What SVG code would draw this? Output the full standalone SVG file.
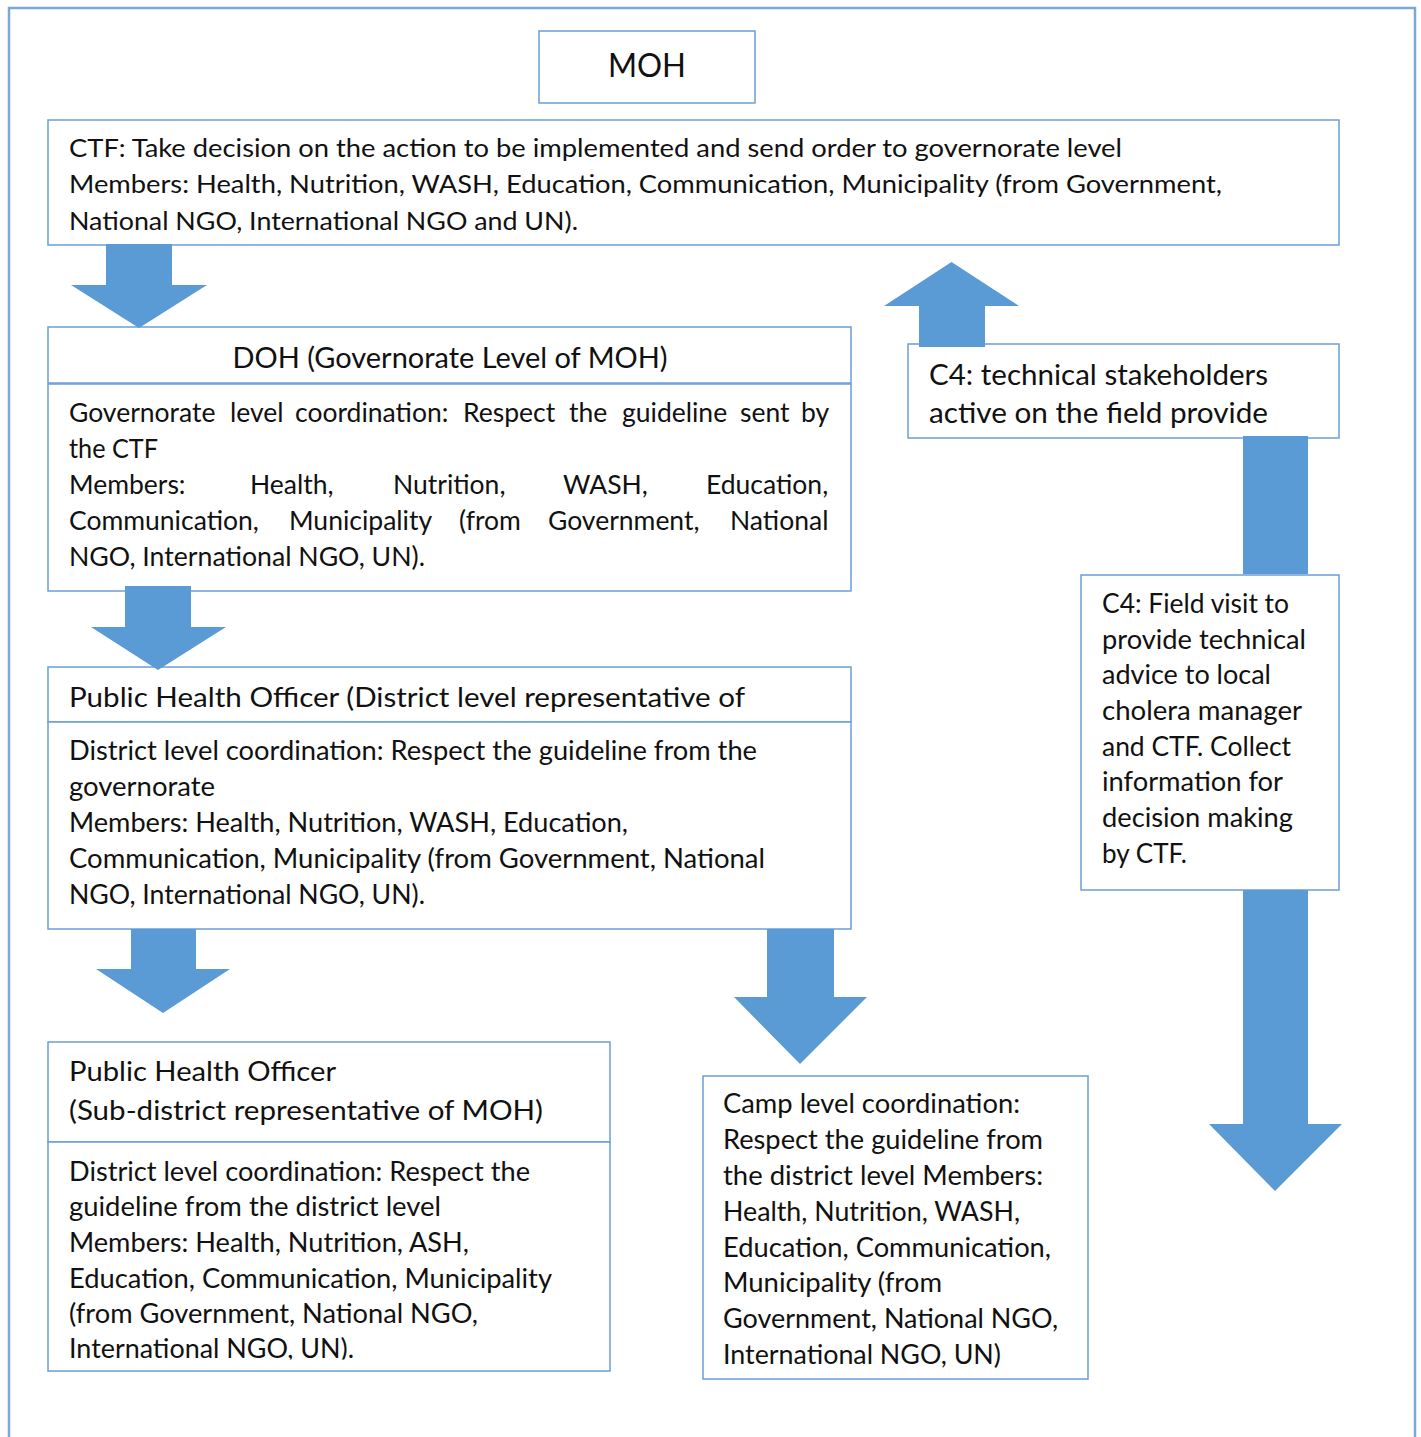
<svg xmlns="http://www.w3.org/2000/svg" width="1421" height="1437" viewBox="0 0 1421 1437">
<style>
.frame{fill:#fff;stroke:#7DA7D9;stroke-width:2.5}
.box{fill:#fff;stroke:#6A9FD8;stroke-width:1.5}
.arr{fill:#5B9BD5}
text{font-family:Lato,"Open Sans","Liberation Sans",sans-serif;fill:#111}
.b25{font-size:25px}.b26{font-size:26px}.b265{font-size:26.5px}.b28{font-size:28px}
</style>
<defs>
<clipPath id="clipLast"><rect x="48" y="1320" width="562" height="39.5"/></clipPath>
</defs>
<rect class="frame" x="9" y="8" width="1406" height="1445"/>

<g id="moh">
<rect class="box" x="539" y="31" width="216" height="72"/>
<text x="647" y="77" text-anchor="middle" font-size="33" textLength="78" lengthAdjust="spacingAndGlyphs">MOH</text>
</g>

<g id="ctf">
<rect class="box" x="48" y="120" width="1291" height="125"/>
<text class="b25" x="69" y="157" textLength="1053" lengthAdjust="spacingAndGlyphs">CTF: Take decision on the action to be implemented and send order to governorate level</text>
<text class="b25" x="69" y="193" textLength="1153" lengthAdjust="spacingAndGlyphs">Members: Health, Nutrition, WASH, Education, Communication, Municipality (from Government,</text>
<text class="b25" x="69" y="230" textLength="509" lengthAdjust="spacingAndGlyphs">National NGO, International NGO and UN).</text>
</g>

<g id="doh">
<rect class="box" x="48" y="327" width="803" height="56"/>
<rect class="box" x="48" y="384" width="803" height="207"/>
<text class="b28" x="450" y="368" text-anchor="middle" textLength="435" lengthAdjust="spacingAndGlyphs">DOH (Governorate Level of MOH)</text>
<text class="b265" y="422"><tspan x="69">Governorate</tspan><tspan x="230">level</tspan><tspan x="295">coordination:</tspan><tspan x="463">Respect</tspan><tspan x="569">the</tspan><tspan x="622">guideline</tspan><tspan x="740">sent</tspan><tspan x="801">by</tspan></text>
<text class="b265" x="69" y="458" textLength="89" lengthAdjust="spacingAndGlyphs">the CTF</text>
<text class="b265" y="494"><tspan x="69">Members:</tspan><tspan x="250">Health,</tspan><tspan x="393">Nutrition,</tspan><tspan x="563">WASH,</tspan><tspan x="706">Education,</tspan></text>
<text class="b265" y="530"><tspan x="69">Communication,</tspan><tspan x="289">Municipality</tspan><tspan x="459">(from</tspan><tspan x="548">Government,</tspan><tspan x="730">National</tspan></text>
<text class="b265" x="69" y="566" textLength="356" lengthAdjust="spacingAndGlyphs">NGO, International NGO, UN).</text>
</g>

<g id="pho-district">
<rect class="box" x="48" y="667" width="803" height="55"/>
<rect class="box" x="48" y="722" width="803" height="207"/>
<text class="b26" x="69" y="707" textLength="676" lengthAdjust="spacingAndGlyphs">Public Health Officer (District level representative of</text>
<text class="b26" x="69" y="760" textLength="688" lengthAdjust="spacingAndGlyphs">District level coordination: Respect the guideline from the</text>
<text class="b26" x="69" y="796" textLength="146" lengthAdjust="spacingAndGlyphs">governorate</text>
<text class="b26" x="69" y="832" textLength="559" lengthAdjust="spacingAndGlyphs">Members: Health, Nutrition, WASH, Education,</text>
<text class="b26" x="69" y="868" textLength="696" lengthAdjust="spacingAndGlyphs">Communication, Municipality (from Government, National</text>
<text class="b26" x="69" y="904" textLength="356" lengthAdjust="spacingAndGlyphs">NGO, International NGO, UN).</text>
</g>

<g id="pho-subdistrict">
<rect class="box" x="48" y="1042" width="562" height="100"/>
<rect class="box" x="48" y="1142" width="562" height="229"/>
<text class="b26" x="69" y="1081" textLength="267" lengthAdjust="spacingAndGlyphs">Public Health Officer</text>
<text class="b26" x="69" y="1120" textLength="474" lengthAdjust="spacingAndGlyphs">(Sub-district representative of MOH)</text>
<text class="b26" x="69" y="1181" textLength="461" lengthAdjust="spacingAndGlyphs">District level coordination: Respect the</text>
<text class="b26" x="69" y="1216" textLength="372" lengthAdjust="spacingAndGlyphs">guideline from the district level</text>
<text class="b26" x="69" y="1252" textLength="400" lengthAdjust="spacingAndGlyphs">Members: Health, Nutrition, ASH,</text>
<text class="b26" x="69" y="1288" textLength="483" lengthAdjust="spacingAndGlyphs">Education, Communication, Municipality</text>
<text class="b26" x="69" y="1323" textLength="409" lengthAdjust="spacingAndGlyphs">(from Government, National NGO,</text>
<text class="b26" x="69" y="1358" textLength="285" lengthAdjust="spacingAndGlyphs" clip-path="url(#clipLast)">International NGO, UN).</text>
</g>

<g id="camp">
<rect class="box" x="703" y="1076" width="385" height="303"/>
<text class="b26" x="723" y="1113" textLength="297" lengthAdjust="spacingAndGlyphs">Camp level coordination:</text>
<text class="b26" x="723" y="1149" textLength="320" lengthAdjust="spacingAndGlyphs">Respect the guideline from</text>
<text class="b26" x="723" y="1185" textLength="320" lengthAdjust="spacingAndGlyphs">the district level Members:</text>
<text class="b26" x="723" y="1221" textLength="297" lengthAdjust="spacingAndGlyphs">Health, Nutrition, WASH,</text>
<text class="b26" x="723" y="1257" textLength="328" lengthAdjust="spacingAndGlyphs">Education, Communication,</text>
<text class="b26" x="723" y="1292" textLength="219" lengthAdjust="spacingAndGlyphs">Municipality (from</text>
<text class="b26" x="723" y="1328" textLength="335" lengthAdjust="spacingAndGlyphs">Government, National NGO,</text>
<text class="b26" x="723" y="1364" textLength="278" lengthAdjust="spacingAndGlyphs">International NGO, UN)</text>
</g>

<g id="c4-stakeholders">
<rect class="box" x="908" y="344" width="431" height="94"/>
<text class="b28" x="929" y="385" textLength="339" lengthAdjust="spacingAndGlyphs">C4: technical stakeholders</text>
<text class="b28" x="929" y="423" textLength="339" lengthAdjust="spacingAndGlyphs">active on the field provide</text>
</g>

<g id="c4-fieldvisit">
<rect class="box" x="1081" y="575" width="258" height="315"/>
<text class="b26" x="1102" y="613" textLength="187" lengthAdjust="spacingAndGlyphs">C4: Field visit to</text>
<text class="b26" x="1102" y="649" textLength="204" lengthAdjust="spacingAndGlyphs">provide technical</text>
<text class="b26" x="1102" y="684" textLength="169" lengthAdjust="spacingAndGlyphs">advice to local</text>
<text class="b26" x="1102" y="720" textLength="200" lengthAdjust="spacingAndGlyphs">cholera manager</text>
<text class="b26" x="1102" y="756" textLength="189" lengthAdjust="spacingAndGlyphs">and CTF. Collect</text>
<text class="b26" x="1102" y="791" textLength="181" lengthAdjust="spacingAndGlyphs">information for</text>
<text class="b26" x="1102" y="827" textLength="191" lengthAdjust="spacingAndGlyphs">decision making</text>
<text class="b26" x="1102" y="863" textLength="85" lengthAdjust="spacingAndGlyphs">by CTF.</text>
</g>

<g id="connectors">
<polygon class="arr" points="106,244 172,244 172,285 207,285 139,328 71,285 106,285"/>
<polygon class="arr" points="125,586 191,586 191,627 226,627 158,670 91,627 125,627"/>
<polygon class="arr" points="131,929 196,929 196,969 230,969 163,1013 96,969 131,969"/>
<polygon class="arr" points="767,929 834,929 834,997 867,997 800,1064 734,997 767,997"/>
<polygon class="arr" points="951.5,262 1019,306 985,306 985,347 919,347 919,306 884,306"/>
<rect class="arr" x="1243" y="436" width="65" height="138"/>
<polygon class="arr" points="1243,890 1308,890 1308,1124 1342,1124 1275,1191 1209,1124 1243,1124"/>
</g>
</svg>
